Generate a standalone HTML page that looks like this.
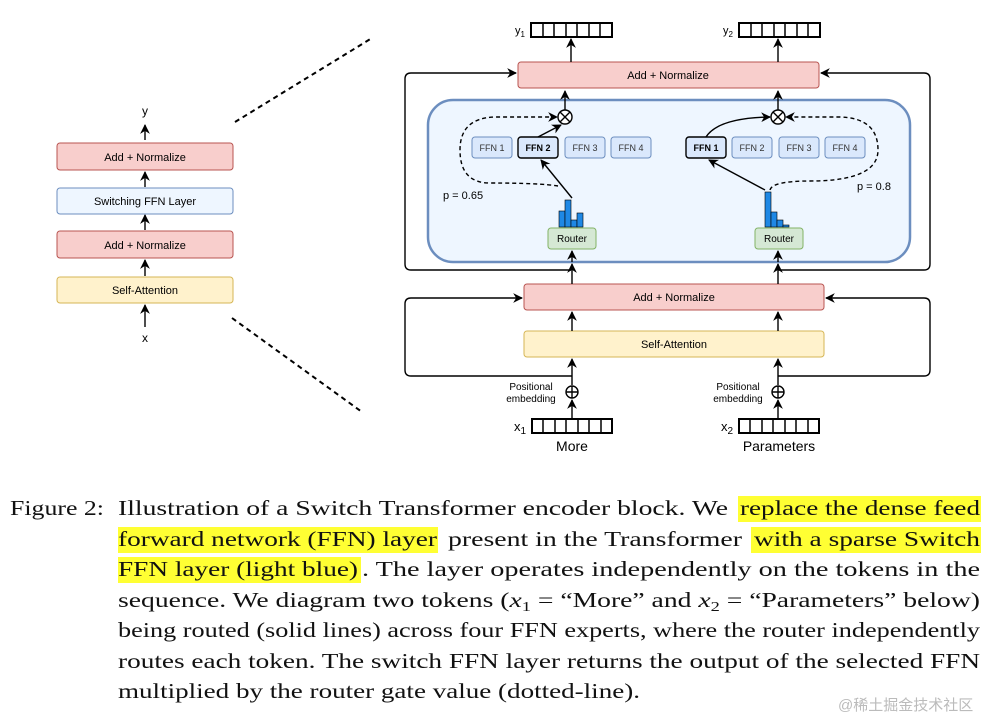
<!DOCTYPE html>
<html><head><meta charset="utf-8"><style>body{margin:0;background:#fff}svg{display:block}</style></head><body>
<svg width="999" height="720" viewBox="0 0 999 720" xmlns="http://www.w3.org/2000/svg" font-family="Liberation Sans, sans-serif">
<defs><marker id="a" viewBox="0 0 10 10" refX="9" refY="5" markerWidth="7" markerHeight="7" orient="auto"><path d="M0,0 L10,5 L0,10 L3,5 z" fill="#000"/></marker></defs>
<g stroke="#000" stroke-width="1.4" fill="none">
<!-- left column -->
<line x1="145" y1="140" x2="145" y2="125" marker-end="url(#a)"/>
<line x1="145" y1="187" x2="145" y2="172" marker-end="url(#a)"/>
<line x1="145" y1="230" x2="145" y2="215" marker-end="url(#a)"/>
<line x1="145" y1="276" x2="145" y2="260" marker-end="url(#a)"/>
<line x1="145" y1="327" x2="145" y2="305" marker-end="url(#a)"/>
<line x1="235" y1="122" x2="372" y2="38" stroke-dasharray="5,4" stroke-width="2"/>
<line x1="232" y1="318" x2="362" y2="412" stroke-dasharray="5,4" stroke-width="2"/>
</g>
<rect x="57" y="143" width="176" height="27" rx="3" fill="#f8cecc" stroke="#b85450"/>
<rect x="57" y="188" width="176" height="26" rx="3" fill="#eef6ff" stroke="#6c8ebf"/>
<rect x="57" y="231" width="176" height="27" rx="3" fill="#f8cecc" stroke="#b85450"/>
<rect x="57" y="277" width="176" height="26" rx="3" fill="#fff2cc" stroke="#d6b656"/>
<g font-size="11" text-anchor="middle" fill="#000">
<text x="145" y="161">Add + Normalize</text><text x="145" y="205">Switching FFN Layer</text>
<text x="145" y="249">Add + Normalize</text><text x="145" y="294">Self-Attention</text>
<text x="145" y="115" font-size="12">y</text><text x="145" y="342" font-size="12">x</text>
</g>
<!-- right: outer loops -->
<g stroke="#000" stroke-width="1.4" fill="none">
<path d="M571,270 H411 Q405,270 405,264 V79 Q405,73 411,73 H516" marker-end="url(#a)"/>
<path d="M778,270 H924 Q930,270 930,264 V79 Q930,73 924,73 H821" marker-end="url(#a)"/>
<path d="M572,376 H411 Q405,376 405,370 V304 Q405,298 411,298 H522" marker-end="url(#a)"/>
<path d="M778,376 H924 Q930,376 930,370 V304 Q930,298 924,298 H826" marker-end="url(#a)"/>
</g>
<rect x="428" y="100" width="482" height="162" rx="25" fill="#eef6ff" stroke="#6c8ebf" stroke-width="2.5"/>
<rect x="518" y="62" width="301" height="26" rx="3" fill="#f8cecc" stroke="#b85450"/>
<rect x="524" y="284" width="300" height="26" rx="3" fill="#f8cecc" stroke="#b85450"/>
<rect x="524" y="331" width="300" height="26" rx="3" fill="#fff2cc" stroke="#d6b656"/>
<g font-size="11" text-anchor="middle">
<text x="668" y="79">Add + Normalize</text><text x="674" y="301">Add + Normalize</text><text x="674" y="348">Self-Attention</text>
</g>
<!-- FFN boxes -->
<g fill="#dae8fc" stroke="#6c8ebf">
<rect x="472" y="137" width="40" height="21" rx="3"/><rect x="565" y="137" width="40" height="21" rx="3"/><rect x="611" y="137" width="40" height="21" rx="3"/>
<rect x="732" y="137" width="40" height="21" rx="3"/><rect x="779" y="137" width="40" height="21" rx="3"/><rect x="825" y="137" width="40" height="21" rx="3"/>
</g>
<g fill="#dae8fc" stroke="#000" stroke-width="1.4"><rect x="518" y="137" width="40" height="21" rx="3"/><rect x="686" y="137" width="40" height="21" rx="3"/></g>
<g font-size="9" text-anchor="middle" fill="#333">
<text x="492" y="151">FFN 1</text><text x="585" y="151">FFN 3</text><text x="631" y="151">FFN 4</text>
<text x="752" y="151">FFN 2</text><text x="799" y="151">FFN 3</text><text x="845" y="151">FFN 4</text>
<text x="538" y="151" font-weight="bold" fill="#000">FFN 2</text><text x="706" y="151" font-weight="bold" fill="#000">FFN 1</text>
</g>
<!-- routers -->
<rect x="548" y="228" width="48" height="21" rx="3" fill="#d5e8d4" stroke="#82b366"/>
<rect x="755" y="228" width="48" height="21" rx="3" fill="#d5e8d4" stroke="#82b366"/>
<g font-size="10" text-anchor="middle"><text x="572" y="242">Router</text><text x="779" y="242">Router</text></g>
<g fill="#1e88e5" stroke="#000" stroke-width="0.6">
<rect x="559" y="211" width="6" height="16"/><rect x="565" y="200" width="6" height="27"/><rect x="571" y="220" width="6" height="7"/><rect x="577" y="213" width="6" height="14"/>
<rect x="765" y="192" width="6" height="35"/><rect x="771" y="212" width="6" height="15"/><rect x="777" y="220" width="6" height="7"/><rect x="783" y="225" width="6" height="2"/>
</g>
<g font-size="11"><text x="443" y="199">p = 0.65</text><text x="857" y="190">p = 0.8</text></g>
<!-- arrows inside -->
<g stroke="#000" stroke-width="1.4" fill="none">
<line x1="572" y1="262" x2="572" y2="251" marker-end="url(#a)"/>
<line x1="778" y1="262" x2="778" y2="251" marker-end="url(#a)"/>
<line x1="572" y1="198" x2="541" y2="160" marker-end="url(#a)"/>
<line x1="765" y1="190" x2="709" y2="160" marker-end="url(#a)"/>
<line x1="538" y1="137" x2="561" y2="125" marker-end="url(#a)"/>
<path d="M706,137 Q718,118 770,117" marker-end="url(#a)"/>
<path d="M558,186 Q540,183 490,183 Q460,183 460,150 Q460,118 495,117 L557,117" stroke-dasharray="4,3" marker-end="url(#a)"/>
<path d="M770,190 Q772,181 810,181 Q878,181 878,150 Q878,118 840,117 L786,117" stroke-dasharray="4,3" marker-end="url(#a)"/>
<circle cx="565" cy="117" r="7" fill="#fff"/><path d="M560,112 L570,122 M570,112 L560,122"/>
<circle cx="778" cy="117" r="7" fill="#fff"/><path d="M773,112 L783,122 M783,112 L773,122"/>
<line x1="565" y1="110" x2="565" y2="91" marker-end="url(#a)"/>
<line x1="778" y1="110" x2="778" y2="91" marker-end="url(#a)"/>
<line x1="571" y1="62" x2="571" y2="39" marker-end="url(#a)"/>
<line x1="778" y1="62" x2="778" y2="39" marker-end="url(#a)"/>
<line x1="572" y1="284" x2="572" y2="264" marker-end="url(#a)"/>
<line x1="778" y1="284" x2="778" y2="264" marker-end="url(#a)"/>
<line x1="572" y1="331" x2="572" y2="312" marker-end="url(#a)"/>
<line x1="778" y1="331" x2="778" y2="312" marker-end="url(#a)"/>
<line x1="572" y1="385" x2="572" y2="359" marker-end="url(#a)"/>
<line x1="778" y1="385" x2="778" y2="359" marker-end="url(#a)"/>
<line x1="572" y1="419" x2="572" y2="400" marker-end="url(#a)"/>
<line x1="778" y1="419" x2="778" y2="400" marker-end="url(#a)"/>
<circle cx="572" cy="392" r="6" fill="#fff"/><path d="M566,392 H578 M572,386 V398"/>
<circle cx="778" cy="392" r="6" fill="#fff"/><path d="M772,392 H784 M778,386 V398"/>
</g>
<!-- token vectors -->
<g stroke="#000" stroke-width="2" fill="#fff">
<rect x="531" y="23" width="81" height="14"/><rect x="739" y="23" width="81" height="14"/>
<rect x="532" y="419" width="80" height="14"/><rect x="739" y="419" width="80" height="14"/>
</g>
<g stroke="#000" stroke-width="1.5">
<path d="M543,23V37M554,23V37M566,23V37M577,23V37M589,23V37M600,23V37"/>
<path d="M751,23V37M762,23V37M774,23V37M785,23V37M797,23V37M808,23V37"/>
<path d="M543,419V433M555,419V433M566,419V433M578,419V433M589,419V433M601,419V433"/>
<path d="M750,419V433M762,419V433M773,419V433M785,419V433M796,419V433M808,419V433"/>
</g>
<g font-size="11"><text x="515" y="34">y<tspan font-size="8" dy="3">1</tspan></text><text x="723" y="34">y<tspan font-size="8" dy="3">2</tspan></text>
<text x="514" y="431" font-size="13">x<tspan font-size="10" dy="3">1</tspan></text><text x="721" y="431" font-size="13">x<tspan font-size="10" dy="3">2</tspan></text></g>
<g font-size="10" text-anchor="middle"><text x="531" y="390">Positional</text><text x="531" y="402">embedding</text><text x="738" y="390">Positional</text><text x="738" y="402">embedding</text></g>
<g font-size="14" text-anchor="middle"><text x="572" y="451">More</text><text x="779" y="451">Parameters</text></g>
<!-- caption -->
<g fill="#ffff33">
<rect x="738" y="496" width="243" height="26"/><rect x="118" y="527" width="320" height="26"/><rect x="751" y="527" width="230" height="26"/><rect x="118" y="557" width="243" height="26"/>
</g>
<g font-family="Liberation Serif, serif" font-size="21" fill="#111" lengthAdjust="spacingAndGlyphs">
<text x="10" y="515" textLength="94" lengthAdjust="spacingAndGlyphs">Figure 2:</text>
<text x="118" y="515" textLength="610" lengthAdjust="spacingAndGlyphs">Illustration of a Switch Transformer encoder block.  We</text>
<text x="740" y="515" textLength="240" lengthAdjust="spacingAndGlyphs">replace the dense feed</text>
<text x="118" y="546" textLength="319" lengthAdjust="spacingAndGlyphs">forward network (FFN) layer</text>
<text x="448" y="546" textLength="294" lengthAdjust="spacingAndGlyphs">present in the Transformer</text>
<text x="754" y="546" textLength="226" lengthAdjust="spacingAndGlyphs">with a sparse Switch</text>
<text x="118" y="576" textLength="240" lengthAdjust="spacingAndGlyphs">FFN layer (light blue)</text>
<text x="362" y="576" textLength="618" lengthAdjust="spacingAndGlyphs">.  The layer operates independently on the tokens in the</text>
<text x="118" y="607" textLength="862" lengthAdjust="spacingAndGlyphs">sequence. We diagram two tokens (<tspan font-style="italic">x</tspan><tspan font-size="14" dy="4">1</tspan><tspan dy="-4"> = “More” and </tspan><tspan font-style="italic">x</tspan><tspan font-size="14" dy="4">2</tspan><tspan dy="-4"> = “Parameters” below)</tspan></text>
<text x="118" y="637" textLength="862" lengthAdjust="spacingAndGlyphs">being routed (solid lines) across four FFN experts, where the router independently</text>
<text x="118" y="668" textLength="862" lengthAdjust="spacingAndGlyphs">routes each token. The switch FFN layer returns the output of the selected FFN</text>
<text x="118" y="698" textLength="522" lengthAdjust="spacingAndGlyphs">multiplied by the router gate value (dotted-line).</text>
</g>
<text x="838" y="710" font-family="Liberation Sans, Noto Sans CJK SC, sans-serif" font-size="15" fill="#bbb">@稀土掘金技术社区</text>
</svg>
</body></html>
